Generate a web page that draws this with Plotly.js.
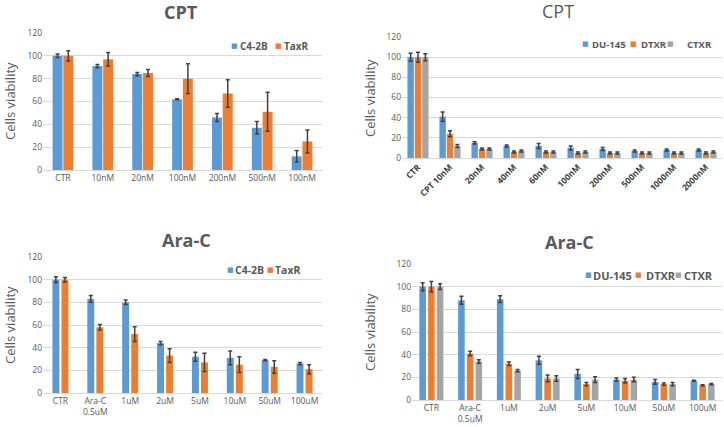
<!DOCTYPE html>
<html>
<head>
<meta charset="utf-8">
<script src="https://cdn.plot.ly/plotly-3.0.1.min.js"></script>
<style>html,body{margin:0;padding:0;background:#fff;}#chart{width:724px;height:427px;}</style>
</head>
<body>
<div id="chart"></div>
<script>
// ---- Data ----
var cptCats1 = ["CTR", "10nM", "20nM", "100nM", "200nM", "500nM", "100nM"];
var c42bCpt = [100, 91, 84, 62, 46, 37, 12];
var c42bCptErr = [1.5, 1.5, 1.5, 0.5, 3.5, 5.5, 5];
var taxrCpt = [100, 97, 85, 80, 67, 51, 25];
var taxrCptErr = [4.5, 6, 3, 13, 12, 17, 10];

var cptCats2 = ["CTR", "CPT 10nM", "20nM", "40nM", "60nM", "100nM", "200nM", "500nM", "1000nM", "2000nM"];
var du145Cpt = [100, 41, 15, 12, 12, 10, 9, 7, 8, 8];
var du145CptErr = [4, 4.5, 1, 1, 2.5, 2, 1.5, 1, 1, 1];
var dtxrCpt = [100, 24, 9, 6, 6, 5, 5, 5, 5, 5];
var dtxrCptErr = [5, 3, 1, 1, 1, 1, 1, 1, 1, 1];
var ctxrCpt = [100, 12, 9, 7, 6, 6, 5, 5, 5, 6];
var ctxrCptErr = [3.5, 1.5, 1, 1, 1, 1, 1, 1, 1, 1];

var araCats = ["CTR", "Ara-C<br>0.5uM", "1uM", "2uM", "5uM", "10uM", "50uM", "100uM"];
var c42bAra = [100, 83, 80, 44, 32, 31, 29, 26];
var c42bAraErr = [2.5, 3, 2, 1.5, 4, 6, 0.5, 1];
var taxrAra = [100, 58, 52, 33, 27, 25, 23, 21];
var taxrAraErr = [2, 2.5, 6.5, 6, 8, 7, 5.5, 4];

var du145Ara = [100, 88, 89, 35, 23, 18, 16, 17];
var du145AraErr = [3.5, 3.5, 3, 3.5, 4, 1.5, 2, 0.5];
var dtxrAra = [100, 41, 32, 19, 14, 17, 14, 13];
var dtxrAraErr = [4.5, 2, 1.5, 3, 1.5, 2, 1, 0.5];
var ctxrAra = [100, 34, 26, 19, 18, 18, 14, 14];
var ctxrAraErr = [2.5, 1.5, 1, 2.5, 2.5, 2, 1.5, 0.5];

var yTicks = [0, 20, 40, 60, 80, 100, 120];

// ---- Styles ----
var BLUE = "#5B9BD5", ORANGE = "#ED7D31", GRAY = "#A5A5A5";
var TXT = "#595959";
var FONT = "Open Sans, DejaVu Sans, sans-serif";
var W = 724, H = 427;
function px(x) { return x / W; }
function py(y) { return 1 - y / H; }
function idx(n) { var a = []; for (var i = 0; i < n; i++) a.push(i); return a; }

function bar(name, cats, vals, errs, color, xa, ya, width, offset) {
  return {
    type: "bar", name: name, x: idx(cats.length), y: vals,
    xaxis: xa, yaxis: ya, showlegend: false,
    width: width, offset: offset,
    marker: {color: color},
    error_y: {type: "data", array: errs, visible: true, color: "#404040", thickness: 1.5, width: 2}
  };
}

var data = [
  bar("C4-2B", cptCats1, c42bCpt, c42bCptErr, BLUE, "x", "y", 0.25, -0.26),
  bar("TaxR", cptCats1, taxrCpt, taxrCptErr, ORANGE, "x", "y", 0.25, 0.01),
  bar("DU-145", cptCats2, du145Cpt, du145CptErr, BLUE, "x2", "y2", 0.2, -0.33),
  bar("DTXR", cptCats2, dtxrCpt, dtxrCptErr, ORANGE, "x2", "y2", 0.2, -0.1),
  bar("CTXR", cptCats2, ctxrCpt, ctxrCptErr, GRAY, "x2", "y2", 0.2, 0.13),
  bar("C4-2B", araCats, c42bAra, c42bAraErr, BLUE, "x3", "y3", 0.2, -0.23),
  bar("TaxR", araCats, taxrAra, taxrAraErr, ORANGE, "x3", "y3", 0.2, 0.03),
  bar("DU-145", araCats, du145Ara, du145AraErr, BLUE, "x4", "y4", 0.17, -0.31),
  bar("DTXR", araCats, dtxrAra, dtxrAraErr, ORANGE, "x4", "y4", 0.17, -0.085),
  bar("CTXR", araCats, ctxrAra, ctxrAraErr, GRAY, "x4", "y4", 0.17, 0.14)
];

function xaxis(cats, x0, x1, anchor, angle, bold) {
  return {
    domain: [px(x0), px(x1)], anchor: anchor,
    range: [-0.5, cats.length - 0.5],
    tickvals: idx(cats.length), ticktext: cats,
    tickangle: angle, showgrid: false, zeroline: false,
    showline: true, linecolor: "#D9D9D9", linewidth: 1, ticks: "",
    tickfont: {family: FONT, size: 8.5, color: bold ? "#404040" : TXT, weight: bold ? "bold" : "normal"},
    fixedrange: true
  };
}
function yaxis(y0, y1, anchor) {
  return {
    domain: [py(y1), py(y0)], anchor: anchor,
    range: [0, 120], tickvals: yTicks,
    showgrid: true, gridcolor: "#D9D9D9", gridwidth: 1, zeroline: false,
    showline: false, ticks: "",
    tickfont: {family: FONT, size: 8.5, color: TXT},
    fixedrange: true
  };
}
function ann(text, x, y, size, bold, angle, anchor) {
  return {
    text: text, x: px(x), y: py(y), xref: "paper", yref: "paper",
    showarrow: false, xanchor: anchor || "center", yanchor: "middle",
    textangle: angle || 0, borderpad: 0,
    font: {family: FONT, size: size, color: TXT, weight: bold ? "bold" : "normal"}
  };
}
// legend entry: coloured square (centred at sx) + label (left edge at tx)
function legItem(label, color, sx, y, tx, size) {
  return [
    {text: "■", x: px(sx), y: py(y), xref: "paper", yref: "paper", showarrow: false,
     xanchor: "center", yanchor: "middle", borderpad: 0,
     font: {family: "DejaVu Sans", size: 7, color: color}},
    ann(label, tx, y, size, true, 0, "left")
  ];
}

var annotations = [
  ann("CPT", 181, 12, 18, true),
  ann("CPT", 558, 11, 18, false),
  ann("Ara-C", 187, 240, 18, true),
  ann("Ara-C", 569, 242, 18, true),
  ann("Cells viability", 10, 101, 13, false, -90),
  ann("Cells viability", 370, 98, 13, false, -90),
  ann("Cells viability", 10, 325, 13, false, -90),
  ann("Cells viability", 370, 332, 13, false, -90)
];
annotations = annotations
  .concat(legItem("C4-2B", BLUE, 234, 46, 239, 10))
  .concat(legItem("TaxR", ORANGE, 278, 46, 283, 10))
  .concat(legItem("DU-145", BLUE, 585.5, 44, 591, 9.5))
  .concat(legItem("DTXR", ORANGE, 633.5, 44, 640, 9.5))
  .concat(legItem("CTXR", GRAY, 670.5, 44, 686, 9.5))
  .concat(legItem("C4-2B", BLUE, 230, 270, 234, 10.5))
  .concat(legItem("TaxR", ORANGE, 270, 270, 274, 10.5))
  .concat(legItem("DU-145", BLUE, 588, 275, 592, 11))
  .concat(legItem("DTXR", ORANGE, 638, 275, 645, 11))
  .concat(legItem("CTXR", GRAY, 678, 275, 683, 11));

var layout = {
  width: W, height: H,
  margin: {l: 0, r: 0, t: 0, b: 0},
  paper_bgcolor: "#fff", plot_bgcolor: "rgba(0,0,0,0)",
  barmode: "group",
  xaxis: xaxis(cptCats1, 43, 322, "y", 0, false),
  yaxis: yaxis(33, 170, "x"),
  xaxis2: xaxis(cptCats2, 402, 722, "y2", -45, true),
  yaxis2: yaxis(37, 158, "x2"),
  xaxis3: xaxis(araCats, 43, 322, "y3", 0, false),
  yaxis3: yaxis(257, 393, "x3"),
  xaxis4: xaxis(araCats, 412, 722, "y4", 0, false),
  yaxis4: yaxis(264, 400, "x4"),
  annotations: annotations,
  showlegend: false
};

Plotly.newPlot("chart", data, layout, {displayModeBar: false, staticPlot: true});
</script>
</body>
</html>
